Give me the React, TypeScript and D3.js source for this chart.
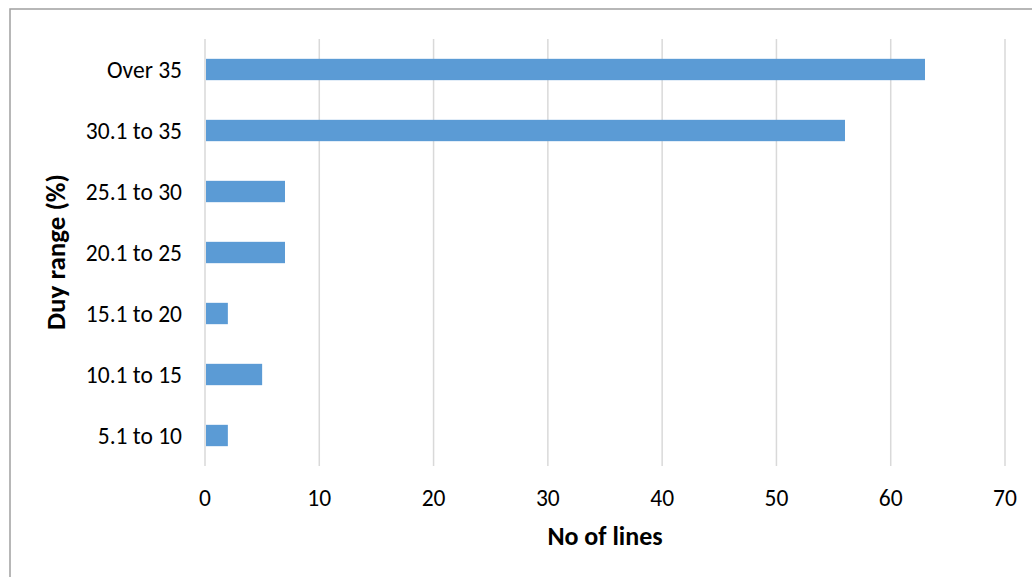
import React from "react";
import * as d3 from "d3";

const categories = ["Over 35", "30.1 to 35", "25.1 to 30", "20.1 to 25", "15.1 to 20", "10.1 to 15", "5.1 to 10"];
const lineCounts = [63, 56, 7, 7, 2, 5, 2];
const xTicks = [0, 10, 20, 30, 40, 50, 60, 70];
const xTitle = "No of lines";
const yTitle = "Duy range (%)";

const W = 1032;
const H = 577;
const plot = { left: 205, right: 1005, top: 39, bottom: 466 };
const FONT = "Calibri, Carlito, Lato, sans-serif";

export default function App() {
  const x = d3.scaleLinear().domain([0, 70]).range([plot.left, plot.right]);
  const y = d3
    .scaleBand<string>()
    .domain(categories)
    .range([plot.top, plot.bottom])
    .paddingInner(0.65)
    .paddingOuter(0.325);

  return (
    <svg
      width={W}
      height={H}
      style={{ position: "fixed", left: 0, top: 0, background: "#fff" }}
      fontFamily={FONT}
    >
      <rect x={10} y={9} width={W} height={H} fill="#fff" stroke="#a0a0a0" strokeWidth={1.5} />
      {xTicks.map((t) => (
        <line key={t} x1={x(t)} x2={x(t)} y1={plot.top} y2={plot.bottom} stroke="#d9d9d9" strokeWidth={1.5} />
      ))}
      {categories.map((c, i) => (
        <rect
          key={c}
          x={x(0) + 1}
          y={y(c)!}
          width={x(lineCounts[i]) - x(0) - 1}
          height={y.bandwidth()}
          fill="#5b9bd5"
        />
      ))}
      {categories.map((c) => (
        <text
          key={c}
          x={plot.left - 23}
          y={y(c)! + y.bandwidth() / 2}
          dy="0.35em"
          textAnchor="end"
          fontSize={23.5}
          fill="#000"
        >
          {c}
        </text>
      ))}
      {xTicks.map((t) => (
        <text key={t} x={x(t)} y={498} dy="0.35em" textAnchor="middle" fontSize={23.5} fill="#000">
          {t}
        </text>
      ))}
      <text x={605} y={545} textAnchor="middle" fontSize={26} fontWeight="bold" fill="#000">
        {xTitle}
      </text>
      <text
        transform={`translate(65,252) rotate(-90)`}
        textAnchor="middle"
        fontSize={27}
        fontWeight="bold"
        fill="#000"
      >
        {yTitle}
      </text>
    </svg>
  );
}
